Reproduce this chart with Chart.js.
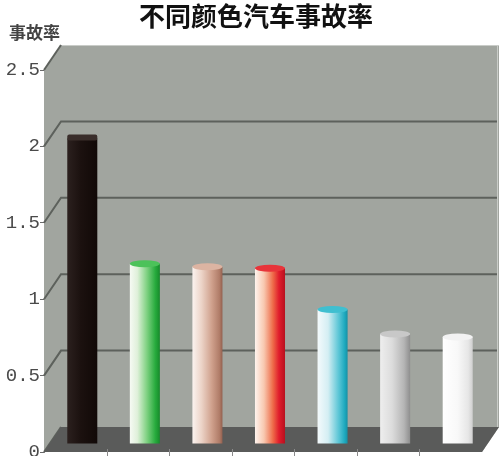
<!DOCTYPE html>
<html>
<head>
<meta charset="utf-8">
<script src="https://cdn.jsdelivr.net/npm/chart.js@4/dist/chart.umd.min.js"></script>
<style>
  html, body { margin: 0; padding: 0; background: #fff; }
  #wrap { width: 499px; height: 456px; position: relative; }
</style>
</head>
<body>
<div id="wrap"><canvas id="c"></canvas></div>
<script>
(function () {
    // ── Data ───────────────────────────────────────────────
    const categories = ['黑色', '绿色', '粉色', '红色', '蓝色', '银色', '白色'];
    const accidentRate = [2.0, 1.18, 1.16, 1.15, 0.88, 0.72, 0.70];
    const yTicks = [0, 0.5, 1, 1.5, 2, 2.5];
    const yTickLabels = ['0', '0.5', '1', '1.5', '2', '2.5'];
    const chartTitle = '不同颜色汽车事故率';
    const axisTitle = '事故率';

    // ── Style ──────────────────────────────────────────────
    const WALL = '#a1a59f';
    const FLOOR = '#5a5b5a';
    const GRID = '#5d615c';
    const WALL_DX = 17, WALL_DY = 25;   // depth of back wall
    const BAR_DX = 7, BAR_DY = 8;       // depth of bar row
    const BAR_STOPS = [
        [[0, '#2b201e'], [0.45, '#1b110f'], [1, '#110907']],
        [[0, '#f6faf4'], [0.25, '#dff0da'], [0.55, '#84d386'], [0.85, '#27ab3d'], [1, '#17892b']],
        [[0, '#fbf3ef'], [0.3, '#ecd4c8'], [0.65, '#cfa08c'], [0.9, '#b07c68'], [1, '#93604f']],
        [[0, '#fff4ee'], [0.3, '#f8c8b0'], [0.6, '#ee6a48'], [0.8, '#e01c2c'], [1, '#b8101e']],
        [[0, '#f4fafc'], [0.35, '#d4eef3'], [0.7, '#5cc6d6'], [0.9, '#1faabf'], [1, '#1590a4']],
        [[0, '#eeeeee'], [0.4, '#dcdcdc'], [0.8, '#b4b4b4'], [1, '#8e8e8e']],
        [[0, '#ffffff'], [0.5, '#f8f8f8'], [0.85, '#e6e6e6'], [1, '#cfcfcf']]
    ];
    const CAP_COLORS = ['#3a2e2b', '#4cc25a', '#dcb4a2', '#e8343a', '#3fbfd0', '#c8c8c8', '#f2f2f2'];

    function barGradient(c) {
        const chart = c.chart;
        const xs = chart.scales.x;
        if (!chart.chartArea || !xs) return CAP_COLORS[c.dataIndex];
        const cx = xs.getPixelForValue(c.dataIndex);
        const half = (chart.chartArea.width / categories.length) * 0.48 / 2;
        const g = chart.ctx.createLinearGradient(cx - half, 0, cx + half, 0);
        BAR_STOPS[c.dataIndex].forEach(s => g.addColorStop(s[0], s[1]));
        return g;
    }

    // ── 3D scene: walls, floor, gridlines, bar depth ──────
    const scene3d = {
        id: 'scene3d',
        beforeDraw(chart) {
            const ctx = chart.ctx;
            ctx.save();
            ctx.fillStyle = '#fff';
            ctx.fillRect(0, 0, chart.width, chart.height);
            ctx.fillStyle = '#111';
            ctx.font = 'bold 26px "Noto Sans CJK SC"';
            ctx.textAlign = 'center';
            ctx.textBaseline = 'middle';
            ctx.fillText(chartTitle, 256, 16);
            ctx.fillStyle = '#444';
            ctx.font = 'bold 17px "Noto Sans CJK SC"';
            ctx.textAlign = 'left';
            ctx.fillText(axisTitle, 9, 33);
            ctx.restore();
        },
        beforeDatasetsDraw(chart) {
            const { ctx, chartArea: a } = chart;
            const L = a.left, R = a.right, T = a.top, B = a.bottom;
            ctx.save();
            // side + back wall
            ctx.fillStyle = WALL;
            ctx.beginPath();
            ctx.moveTo(L, B);
            ctx.lineTo(L, T);
            ctx.lineTo(L + WALL_DX, T - WALL_DY);
            ctx.lineTo(R + WALL_DX, T - WALL_DY);
            ctx.lineTo(R + WALL_DX, B - WALL_DY);
            ctx.lineTo(R, B);
            ctx.closePath();
            ctx.fill();
            ctx.strokeStyle = '#c9ccc8';
            ctx.lineWidth = 1;
            ctx.beginPath();
            ctx.moveTo(L + WALL_DX, T - WALL_DY + 0.5);
            ctx.lineTo(R + WALL_DX, T - WALL_DY + 0.5);
            ctx.moveTo(R + WALL_DX - 1.5, T - WALL_DY);
            ctx.lineTo(R + WALL_DX - 1.5, B - WALL_DY);
            ctx.stroke();
            // gridlines on back wall + diagonal connectors on side wall
            const ys = chart.scales.y;
            ctx.strokeStyle = GRID;
            ctx.lineWidth = 2;
            yTicks.forEach(v => {
                const y = ys.getPixelForValue(v);
                ctx.beginPath();
                ctx.moveTo(L, y);
                ctx.lineTo(L + WALL_DX, y - WALL_DY);
                if (v > 0 && v < ys.max) ctx.lineTo(R + WALL_DX - 2, y - WALL_DY);
                ctx.stroke();
            });
            // floor
            ctx.fillStyle = FLOOR;
            ctx.beginPath();
            ctx.moveTo(L, B);
            ctx.lineTo(L + WALL_DX, B - WALL_DY);
            ctx.lineTo(R + WALL_DX, B - WALL_DY);
            ctx.lineTo(R, B);
            ctx.closePath();
            ctx.fill();
            // category dividers on front edge of floor
            const step = (R - L) / categories.length;
            ctx.strokeStyle = '#8a8a8a';
            ctx.lineWidth = 1;
            for (let i = 1; i < categories.length; i++) {
                const x = Math.round(L + i * step) + 0.5;
                ctx.beginPath();
                ctx.moveTo(x, B - 3);
                ctx.lineTo(x, B + 4);
                ctx.stroke();
            }
            ctx.restore();
            // bars sit a bit behind the front plane
            ctx.save();
            ctx.translate(BAR_DX, -BAR_DY);
        },
        afterDatasetsDraw(chart) {
            const ctx = chart.ctx;
            const meta = chart.getDatasetMeta(0);
            meta.data.forEach((bar, i) => {
                const half = bar.width / 2;
                if (i === 0) {
                    // box lid
                    ctx.fillStyle = CAP_COLORS[0];
                    ctx.beginPath();
                    ctx.roundRect(bar.x - half, bar.y - 4, bar.width, 6, 2);
                    ctx.fill();
                } else {
                    ctx.fillStyle = CAP_COLORS[i];
                    ctx.beginPath();
                    ctx.ellipse(bar.x, bar.y, half, 3.5, 0, 0, Math.PI * 2);
                    ctx.fill();
                }
            });
            ctx.restore();
        }
    };

    new Chart(document.getElementById('c'), {
        type: 'bar',
        data: {
            labels: categories,
            datasets: [{
                label: axisTitle,
                data: accidentRate,
                backgroundColor: barGradient,
                borderWidth: 0,
                categoryPercentage: 1,
                barPercentage: 0.48
            }]
        },
        options: {
            responsive: true,
            maintainAspectRatio: false,
            animation: false,
            layout: { padding: { top: 70, right: 17, bottom: 4, left: 0 } },
            plugins: {
                legend: { display: false },
                title: { display: false },
                tooltip: { enabled: false }
            },
            scales: {
                x: { display: false },
                y: {
                    min: 0,
                    max: 2.5,
                    afterBuildTicks: s => { s.ticks = yTicks.map(v => ({ value: v })); },
                    afterFit: s => { s.width = 44; s.paddingTop = 0; s.paddingBottom = 0; },
                    ticks: {
                        padding: 0,
                        color: '#4a4a4a',
                        font: { family: '"Liberation Mono"', size: 19 },
                        callback: (v, i) => yTickLabels[i]
                    },
                    grid: {
                        drawOnChartArea: false,
                        drawTicks: true,
                        tickLength: 4,
                        color: '#6a6a6a'
                    },
                    border: { color: '#8a8a8a', width: 1 }
                }
            }
        },
        plugins: [scene3d]
    });
})();
</script>
</body>
</html>
